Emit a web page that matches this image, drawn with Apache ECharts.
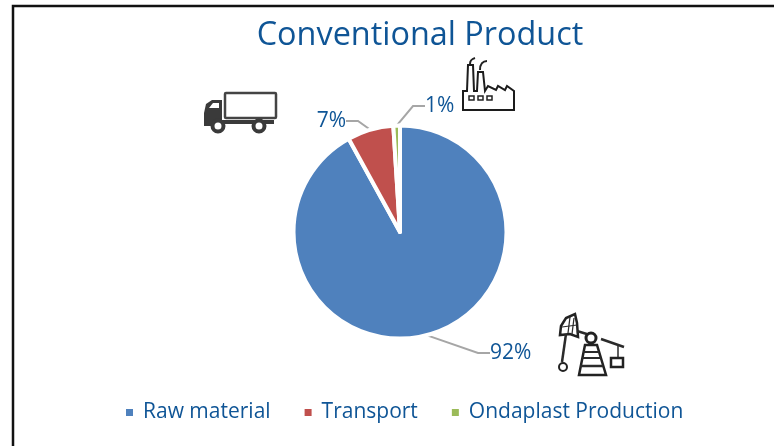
<!DOCTYPE html>
<html>
<head>
<meta charset="utf-8">
<style>html,body{margin:0;padding:0;background:#fff}#main{width:774px;height:446px}</style>
<script src="https://cdn.jsdelivr.net/npm/echarts@6/dist/echarts.min.js"></script>
</head>
<body>
<div id="main"></div>
<script>
var categories = ['Raw material', 'Transport', 'Ondaplast Production'];
var values = [92, 7, 1];
var colors = ['#4f81bd', '#c0504d', '#9bbb59'];
var textColor = '#0f5596';
var fontName = 'Open Sans';

// where the outside labels sit
var labelSpots = [
    {x: 486, y: 353, align: 'left'},
    {x: 350, y: 121, align: 'right'},
    {x: 421, y: 106, align: 'left'}
];

var iconStroke = {stroke: '#444', lineWidth: 2.5, fill: 'none'};
function line(pts, w) {
    return {type: 'polyline', shape: {points: pts}, style: {stroke: '#2b2b2b', lineWidth: w || 2, fill: 'none'}};
}

var truck = {type: 'group', children: [
    {type: 'rect', shape: {x: 225, y: 93, width: 51, height: 25, r: 1}, style: iconStroke},
    {type: 'polygon', shape: {points: [[204,113],[206,104],[212,100],[222,100],[222,126],[204,126]]}, style: {fill: '#3a3a3a'}},
    {type: 'polygon', shape: {points: [[209,108],[213,103],[219,103],[219,108]]}, style: {fill: '#fff'}},
    {type: 'rect', shape: {x: 222, y: 120, width: 52, height: 4}, style: {fill: '#3a3a3a'}},
    {type: 'circle', shape: {cx: 218, cy: 126, r: 5.5}, style: {fill: '#fff', stroke: '#3a3a3a', lineWidth: 4}},
    {type: 'circle', shape: {cx: 259, cy: 126, r: 5.5}, style: {fill: '#fff', stroke: '#3a3a3a', lineWidth: 4}}
]};

var factory = {type: 'group', children: [
    {type: 'polygon', shape: {points: [[463,110],[463,91],[467,91],[468,65],[473,65],[474,91],[477,91],[478,72],[483,72],[485,91],[488,86],[496,90],[498,86],[505,90],[507,86],[514,91],[514,110]]},
        style: {fill: '#fff', stroke: '#1c1c1c', lineWidth: 2}},
    {type: 'rect', shape: {x: 469, y: 96, width: 5, height: 4}, style: {fill: '#fff', stroke: '#222', lineWidth: 1.5}},
    {type: 'rect', shape: {x: 478, y: 96, width: 5, height: 4}, style: {fill: '#fff', stroke: '#222', lineWidth: 1.5}},
    {type: 'rect', shape: {x: 487, y: 96, width: 5, height: 4}, style: {fill: '#fff', stroke: '#222', lineWidth: 1.5}},
    {type: 'bezierCurve', shape: {x1: 470, y1: 64, cpx1: 470, cpy1: 60, cpx2: 472, cpy2: 59, x2: 475, y2: 58}, style: {stroke: '#222', lineWidth: 2, fill: 'none'}},
    {type: 'bezierCurve', shape: {x1: 480, y1: 70, cpx1: 480, cpy1: 64, cpx2: 483, cpy2: 61, x2: 487, y2: 61}, style: {stroke: '#222', lineWidth: 2, fill: 'none'}}
]};

var pump = {type: 'group', children: [
    {type: 'polygon', shape: {points: [[560,335],[561,326],[566,318],[575,314],[577,323],[578,337],[570,334]]}, style: {fill: '#fff', stroke: '#222', lineWidth: 2.5}},
    line([[566,334],[562,362]], 2.5),
    line([[570,317],[568,333]], 1.2),
    line([[574,318],[572,334]], 1.2),
    line([[562,327],[577,325]], 1.2),
    line([[577,331],[590,335]], 2.5),
    {type: 'circle', shape: {cx: 563, cy: 367, r: 4}, style: {fill: '#fff', stroke: '#222', lineWidth: 2}},
    {type: 'circle', shape: {cx: 591, cy: 338, r: 5}, style: {fill: '#fff', stroke: '#222', lineWidth: 3}},
    {type: 'polygon', shape: {points: [[585,345],[597,345],[606,375],[579,375]]}, style: {fill: '#fff', stroke: '#222', lineWidth: 2.5}},
    line([[583,352],[599,352]], 2),
    line([[582,358],[601,358]], 2),
    line([[580,366],[603,366]], 2.5),
    line([[601,339],[624,347]], 2.5),
    line([[618,346],[618,358]], 1.5),
    {type: 'rect', shape: {x: 611, y: 358, width: 12, height: 9}, style: {fill: '#fff', stroke: '#222', lineWidth: 2.5}}
]};

var chart = echarts.init(document.getElementById('main'));
chart.setOption({
    backgroundColor: '#fff',
    animation: false,
    title: {
        text: 'Conventional Product',
        left: 415,
        top: 15,
        textAlign: 'center',
        textStyle: {color: textColor, fontFamily: fontName, fontWeight: 'normal', fontSize: 32.4}
    },
    legend: {
        data: categories,
        top: 397,
        left: 119,
        icon: 'rect',
        itemWidth: 9,
        itemHeight: 9,
        itemGap: 32,
        textStyle: {color: textColor, fontFamily: fontName, fontSize: 21, padding: [0, 0, 0, 4]}
    },
    color: colors,
    series: [{
        type: 'pie',
        center: [400, 232],
        radius: [0, 106.5],
        startAngle: 90,
        itemStyle: {borderColor: '#fff', borderWidth: 4},
        label: {color: textColor, fontFamily: fontName, fontSize: 21, formatter: '{d}%', padding: [0, 4]},
        labelLine: {show: true, length: 30, length2: 12, lineStyle: {color: '#a6a6a6', width: 2}},
        labelLayout: function (params) {
            var s = labelSpots[params.dataIndex];
            return {x: s.x, y: s.y, align: s.align, verticalAlign: 'middle'};
        },
        data: categories.map(function (c, i) { return {name: c, value: values[i]}; })
    }],
    graphic: [
        {type: 'polyline', silent: true, shape: {points: [[774,6],[13,6],[13,446]]}, style: {stroke: '#111', lineWidth: 2.5, fill: 'none'}},
        truck, factory, pump
    ]
});
</script>
</body>
</html>
